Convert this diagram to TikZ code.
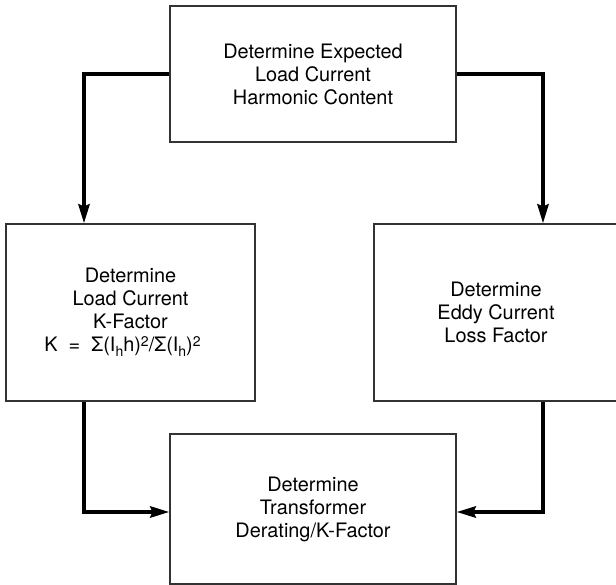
\documentclass[tikz,border=0pt]{standalone}
\usepackage{fontspec}
\setmainfont{TeX Gyre Heros}
\usetikzlibrary{arrows.meta}

% subscript / superscript set as raised or lowered text
\newcommand{\subh}{\raisebox{-5pt}{\fontsize{14}{14}\selectfont h}}
\newcommand{\suptwo}{\raisebox{5pt}{\fontsize{14}{14}\selectfont 2}}

\begin{document}
\begin{tikzpicture}[x=1pt,y=-1pt,
  stepbox/.style={draw=black!80, line width=1.1pt, fill=white, inner sep=0pt,
    align=center, font=\fontsize{19.9}{23}\selectfont},
  flow/.style={line width=4pt, draw=black,
    -{Stealth[length=19pt,width=11pt,inset=2pt]}}]
  \useasboundingbox (0,0) rectangle (616,585);

  % process steps
  \node[stepbox, minimum width=286pt, minimum height=136pt] (top) at (313,74)
    {Determine Expected\\Load Current\\Harmonic Content};
  \node[stepbox, minimum width=249pt, minimum height=177pt] (left) at (130.5,312.5)
    {Determine\\Load Current\\K-Factor\\K\ \ =\ \ Σ(I\subh h)\suptwo/Σ(I\subh)\suptwo\hspace*{16pt}};
  \node[stepbox, minimum width=244pt, minimum height=177pt] (right) at (496,312.5)
    {Determine\\Eddy Current\\Loss Factor};
  \node[stepbox, minimum width=286pt, minimum height=150pt] (bottom) at (313,509)
    {Determine\\Transformer\\Derating/K-Factor};

  % vertical runs of the connectors
  \coordinate (la) at (84,0);
  \coordinate (ra) at (543,0);

  % connectors
  \draw[flow] (top.west) -| (left.north -| la);
  \draw[flow] (top.east) -| (right.north -| ra);
  \draw[flow] (left.south -| la) |- ([yshift=-3pt]bottom.west);
  \draw[flow] (right.south -| ra) |- ([yshift=-3pt]bottom.east);
\end{tikzpicture}
\end{document}
